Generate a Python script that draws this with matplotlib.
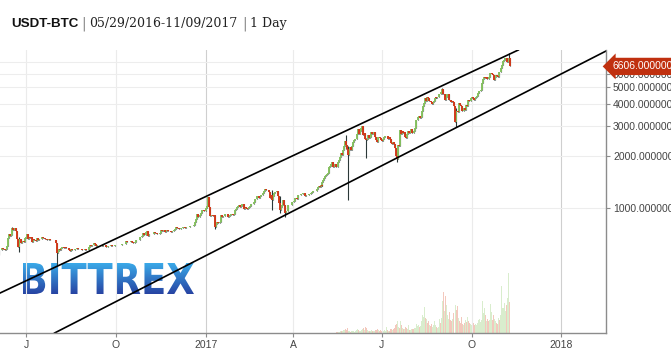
import numpy as np
import pandas as pd
import matplotlib
matplotlib.use("Agg")
import matplotlib.pyplot as plt
from matplotlib.textpath import TextPath
from matplotlib.patches import PathPatch
from matplotlib.font_manager import FontProperties
from matplotlib.transforms import Affine2D, blended_transform_factory
from matplotlib.colors import LinearSegmentedColormap

# daily closes USDT-BTC, 2016-05-29 .. 2017-11-09
first_open = 517
closes = [
    # 2016 May 29-31
    527, 533, 531,
    # Jun
    537, 538, 569, 573, 574, 585, 576, 581, 574, 577, 606, 672, 704, 685, 694,
    766, 748, 756, 763, 737, 666, 596, 623, 665, 665, 629, 647, 647, 640, 673,
    # Jul
    676, 704, 658, 683, 670, 677, 640, 666, 650, 649, 648, 675, 655, 660, 665,
    664, 680, 672, 673, 665, 666, 651, 656, 660, 654, 651, 655, 655, 657, 655, 624,
    # Aug
    607, 547, 567, 578, 575, 587, 592, 591, 587, 592, 589, 587, 585, 570, 567,
    581, 574, 574, 575, 582, 581, 586, 583, 580, 577, 579, 569, 573, 574, 577, 573,
    # Sep
    572, 575, 598, 608, 606, 610, 614, 626, 622, 623, 606, 608, 609, 610, 607,
    607, 606, 611, 610, 609, 597, 597, 603, 603, 601, 608, 606, 604, 605, 609,
    # Oct
    613, 611, 612, 610, 612, 612, 617, 619, 616, 618, 641, 636, 636, 640, 638,
    641, 639, 637, 631, 630, 632, 657, 654, 652, 655, 678, 683, 688, 715, 700, 701,
    # Nov
    730, 740, 689, 703, 704, 711, 704, 710, 723, 716, 716, 705, 703, 706, 713,
    744, 740, 751, 751, 731, 739, 751, 741, 736, 740, 735, 728, 734, 733, 742,
    # Dec
    755, 772, 765, 768, 755, 759, 766, 770, 773, 775, 769, 780, 780, 780, 778,
    785, 790, 790, 792, 800, 834, 864, 921, 891, 890, 907, 933, 975, 973, 961, 963,
    # 2017 Jan
    998, 1021, 1043, 1154, 1013, 903, 908, 911, 902, 908, 777, 804, 826, 818, 822,
    831, 907, 886, 899, 896, 923, 925, 921, 892, 895, 915, 918, 920, 914, 921, 970,
    # Feb
    989, 1009, 1030, 1040, 1017, 1025, 1050, 1054, 988, 1004, 1014, 999, 991, 1004,
    1008, 1032, 1052, 1055, 1055, 1085, 1124, 1121, 1179, 1176, 1150, 1180, 1194, 1190,
    # Mar
    1223, 1259, 1284, 1268, 1274, 1278, 1233, 1150, 1189, 1116, 1176, 1221, 1231,
    1240, 1250, 1180, 1071, 970, 1018, 1044, 1120, 1045, 1042, 938, 964, 967, 1045,
    1045, 1039, 1037, 1079,
    # Apr
    1087, 1100, 1145, 1143, 1134, 1196, 1191, 1183, 1207, 1208, 1226, 1219, 1181,
    1187, 1186, 1185, 1205, 1212, 1219, 1237, 1261, 1258, 1257, 1261, 1281, 1317,
    1346, 1332, 1351, 1348,
    # May
    1421, 1453, 1490, 1537, 1555, 1578, 1596, 1723, 1755, 1787, 1848, 1724, 1805,
    1808, 1739, 1734, 1839, 1888, 1987, 2084, 2041, 2174, 2291, 2444, 2304, 2203,
    2038, 2155, 2255, 2175, 2286,
    # Jun
    2407, 2488, 2516, 2518, 2699, 2870, 2692, 2794, 2811, 2905, 2969, 2659, 2718,
    2506, 2465, 2518, 2655, 2548, 2590, 2761, 2691, 2705, 2746, 2590, 2478, 2427,
    2590, 2587, 2550, 2481,
    # Jul
    2434, 2506, 2564, 2601, 2601, 2608, 2519, 2572, 2518, 2372, 2337, 2398, 2357,
    2233, 1999, 1929, 2228, 2318, 2273, 2817, 2668, 2810, 2730, 2754, 2576, 2529,
    2671, 2809, 2726, 2757, 2875,
    # Aug
    2718, 2710, 2804, 2895, 3252, 3213, 3378, 3419, 3342, 3381, 3650, 3884, 4073,
    4325, 4181, 4376, 4331, 4160, 4193, 4088, 4001, 4100, 4151, 4334, 4371, 4352,
    4382, 4382, 4579, 4565, 4703,
    # Sep
    4892, 4578, 4582, 4236, 4376, 4597, 4599, 4228, 4226, 4122, 4161, 4130, 3882,
    3154, 3637, 3625, 3582, 4065, 3925, 3905, 3631, 3630, 3792, 3682, 3926, 3892,
    4200, 4174, 4164, 4338,
    # Oct
    4403, 4409, 4317, 4229, 4328, 4370, 4426, 4611, 4772, 4781, 4827, 5325, 5563,
    5739, 5648, 5711, 5603, 5590, 5708, 6011, 6031, 6008, 5930, 5526, 5750, 5904,
    5780, 5753, 6153, 6130, 6468,
    # Nov
    6767, 7078, 7207, 7379, 7407, 7022, 7144, 7359, 6606,
]

# long wicks visible on the chart
wick_dates = ["2016-06-16", "2016-06-23", "2016-08-02", "2017-01-04", "2017-01-11",
              "2017-03-10", "2017-03-18", "2017-03-24", "2017-05-25", "2017-05-27",
              "2017-06-11", "2017-06-15", "2017-07-16", "2017-09-01", "2017-09-15",
              "2017-11-08"]
wick_highs = [780, 680, 610, 1160, 910, 1270, 1180, 1045, 2650, 2300,
              2990, 2560, 2100, 4950, 3800, 7850]
wick_lows = [700, 560, 470, 1040, 760, 975, 940, 890, 2200, 1110,
             2880, 1950, 1840, 4550, 2950, 7000]

# daily volume from 2017-05-15
vol_start = "2017-05-15"
volumes = [
    1, 1, 1, 1, 2, 1, 2, 2, 3, 3, 4, 3, 5, 2, 2, 1, 2,
    2, 2, 1, 2, 3, 4, 3, 2, 2, 3, 4, 5, 3, 6, 5, 3, 2, 2, 2, 3, 2, 2, 2, 3, 3, 4, 3, 2, 2, 3,
    2, 2, 2, 3, 2, 6, 3, 2, 2, 4, 4, 3, 4, 5, 8, 9, 12, 6, 5, 12, 8, 5, 4, 4, 6, 5, 4, 8, 3, 3, 4,
    4, 4, 5, 5, 9, 6, 7, 8, 6, 7, 12, 18, 16, 26, 15, 14, 10, 12, 8, 7, 9, 6, 8, 12, 8, 6, 5, 6, 14, 10, 15,
    32, 41, 22, 37, 28, 18, 14, 21, 13, 12, 14, 20, 46, 71, 28, 23, 27, 15, 12, 10, 16, 9, 8, 10, 13, 11, 16, 12, 10, 9,
    8, 9, 10, 8, 9, 8, 10, 13, 14, 11, 13, 32, 20, 25, 18, 12, 14, 12, 13, 29, 21, 12, 13, 18, 14, 12, 10, 9, 15, 13, 18,
    47, 25, 25, 30, 22, 28, 35, 60, 31,
]

# trend channel
upper_dates = ["2016-06-04", "2017-11-18"]
upper_prices = [322, 8222]
lower_dates = ["2016-07-30", "2018-02-16"]
lower_prices = [189, 8110]

tick_dates = ["2016-07-01", "2016-10-01", "2017-01-01", "2017-04-01",
              "2017-07-01", "2017-10-01", "2018-01-01"]
tick_labels = ["J", "O", "2017", "A", "J", "O", "2018"]
price_ticks = [1000, 2000, 3000, 4000, 5000, 6000, 7000]
last_price = 6606

GREEN = "#86c160"
RED = "#d23a1b"
WICK = "#2b3838"

dates = pd.date_range("2016-05-29", periods=len(closes), freq="D")
c = np.array(closes, float)
o = np.concatenate([[first_open], c[:-1]])
hi = np.maximum(o, c)
lo = np.minimum(o, c)
for d, h, l in zip(pd.to_datetime(wick_dates), wick_highs, wick_lows):
    i = dates.get_loc(d)
    hi[i] = max(hi[i], h)
    lo[i] = min(lo[i], l)
up = c >= o

fig = plt.figure(figsize=(6.71, 3.52), dpi=100)
pos = [0, 19 / 352, 606 / 671, 283 / 352]

# watermark
wm = fig.add_axes([0, 0, 1, 1], zorder=0)
wm.set_axis_off()
tp = TextPath((0, 0), "BITTREX", size=40,
              prop=FontProperties(family="DejaVu Sans", weight="bold"))
bb = tp.get_extents()
tr = Affine2D().translate(-bb.x0, -bb.y0).scale(171 / bb.width, 31 / bb.height).translate(23, 58)
patch = PathPatch(tr.transform_path(tp), fc="none", ec="none")
wm.add_patch(patch)
cmap = LinearSegmentedColormap.from_list("wm", ["#2744a3", "#3aa9e8"])
wm.imshow(np.linspace(0, 1, 64).reshape(-1, 1), extent=[23, 194, 58, 89], origin="lower",
          cmap=cmap, aspect="auto", clip_path=patch)
wm.set_xlim(0, 671)
wm.set_ylim(0, 352)

ax = fig.add_axes(pos, zorder=2)
ax.set_facecolor("none")
vol = fig.add_axes(pos, zorder=1, sharex=ax)
vol.set_axis_off()

vdates = pd.date_range(vol_start, periods=len(volumes), freq="D")
vup = up[dates.get_indexer(vdates)]
vol.bar(vdates, volumes, width=1.0, linewidth=0,
        color=np.where(vup, "#d9edcd", "#f3c8bd"))
vol.set_ylim(0, 283)

ax.vlines(dates, lo, hi, color=WICK, lw=0.8)
ax.vlines(dates[up], o[up], c[up], color=GREEN, lw=1.4)
ax.vlines(dates[~up], o[~up], c[~up], color=RED, lw=1.4)

ax.plot(pd.to_datetime(upper_dates), upper_prices, color="black", lw=1.2)
ax.plot(pd.to_datetime(lower_dates), lower_prices, color="black", lw=1.2)

ax.set_yscale("log")
ax.set_ylim(189, 8222)
ax.set_xlim(pd.Timestamp("2016-06-04"), pd.Timestamp("2018-02-16"))

ax.yaxis.tick_right()
ax.set_yticks(price_ticks)
ax.set_yticklabels([f"{p}.000000" for p in price_ticks])
ax.yaxis.set_minor_locator(matplotlib.ticker.NullLocator())
ax.set_xticks(pd.to_datetime(tick_dates))
ax.set_xticklabels(tick_labels)
ax.tick_params(axis="both", colors="#8c8c8c", labelcolor="#444444", labelsize=7.5,
               length=3, width=0.8, pad=2)
for lab in ax.get_xticklabels() + ax.get_yticklabels():
    lab.set_fontfamily("Liberation Sans")

ax.grid(axis="y", color="#ededed", lw=0.8)
ax.grid(axis="x", color="#ebebeb", lw=0.8)
for i, gl in enumerate(ax.get_xgridlines()):
    if tick_labels[i] in ("2017", "2018"):
        gl.set_color("#cfcfcf")
for s in ("top", "left"):
    ax.spines[s].set_visible(False)
for s in ("right", "bottom"):
    ax.spines[s].set_color("#8c8c8c")
    ax.spines[s].set_linewidth(1.0)

# last price tag
blend = blended_transform_factory(ax.transAxes, ax.transData)
ax.text(1.0105, last_price, f"{last_price}.000000", transform=blend, ha="left", va="center",
        color="white", fontsize=7.5, family="Liberation Sans", clip_on=False, zorder=5,
        bbox=dict(boxstyle="larrow,pad=0.35", fc="#c0300f", ec="none"))

# title
ty = 1 - 27.3 / 352
fig.text(11 / 671, ty, "USDT-BTC", fontsize=9.6, fontweight="bold",
         family="Liberation Sans", color="#111111", va="baseline")
fig.text(81 / 671, ty, "|", fontsize=10, color="#888888", va="baseline", family="DejaVu Sans")
fig.text(89 / 671, ty, "05/29/2016-11/09/2017", fontsize=9.0, family="DejaVu Serif",
         color="#222222", va="baseline")
fig.text(242 / 671, ty, "|", fontsize=10, color="#888888", va="baseline", family="DejaVu Sans")
fig.text(250 / 671, ty, "1 Day", fontsize=9.0, family="DejaVu Serif", color="#222222",
         va="baseline")

fig.savefig("out.png", dpi=100)
